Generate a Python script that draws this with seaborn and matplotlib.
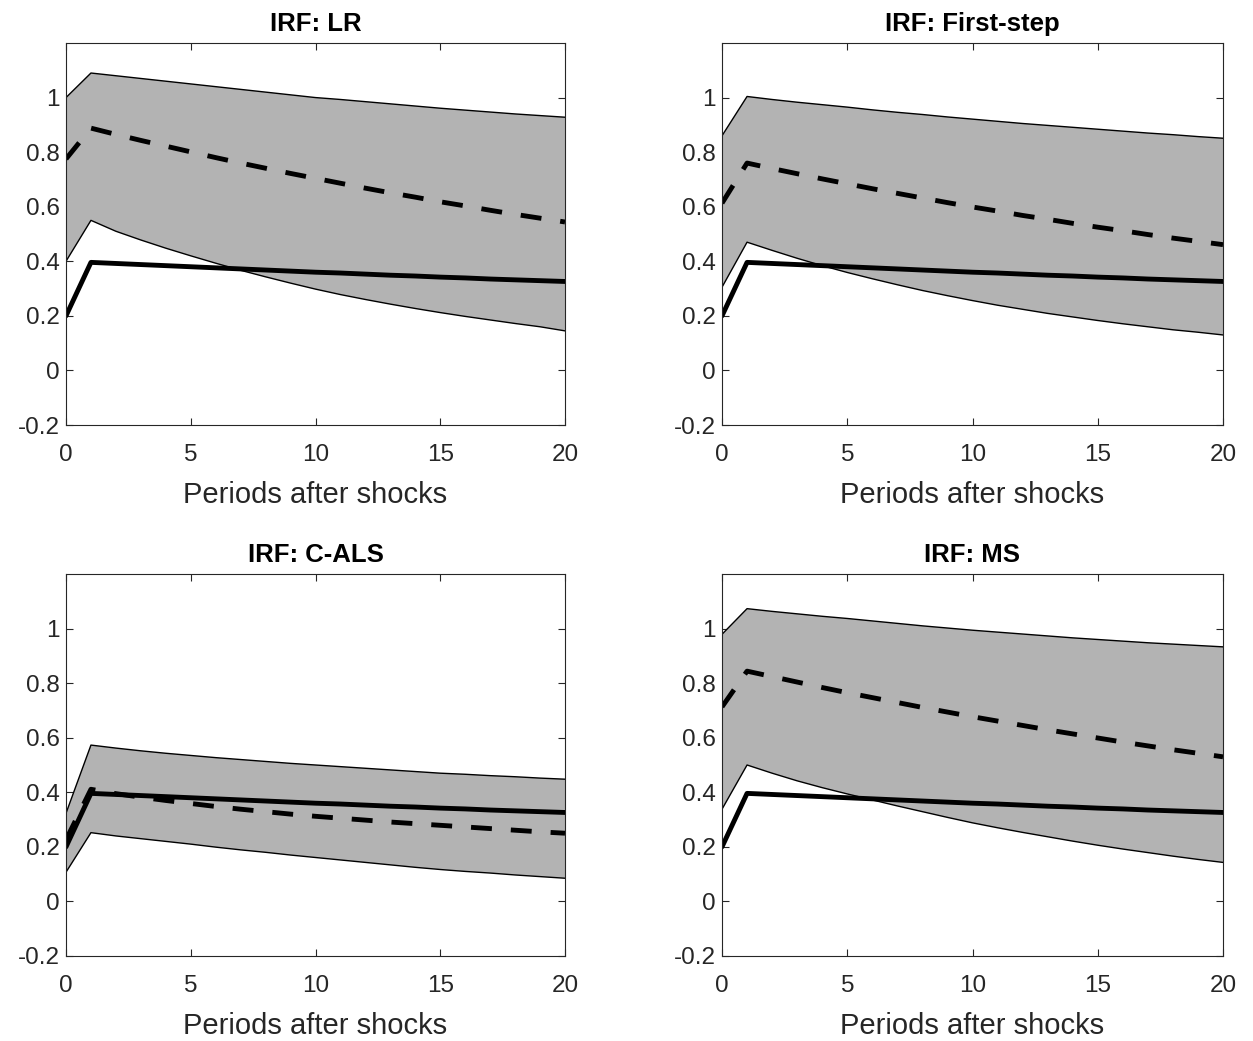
import numpy as np
import pandas as pd
import matplotlib
matplotlib.use("Agg")
import matplotlib.pyplot as plt
import seaborn as sns

periods = list(range(21))

true_irf = [0.200, 0.396, 0.392, 0.388, 0.384, 0.380, 0.376, 0.372, 0.368, 0.364, 0.360,
            0.357, 0.353, 0.349, 0.346, 0.342, 0.339, 0.335, 0.332, 0.329, 0.326]

lr_est = [0.775, 0.888, 0.865, 0.843, 0.822, 0.801, 0.780, 0.760, 0.741, 0.722, 0.704,
          0.686, 0.668, 0.651, 0.635, 0.618, 0.603, 0.587, 0.572, 0.558, 0.544]
lr_upper = [1.000, 1.090, 1.080, 1.070, 1.060, 1.050, 1.040, 1.030, 1.020, 1.010, 1.000,
            0.993, 0.985, 0.977, 0.969, 0.961, 0.954, 0.947, 0.940, 0.934, 0.928]
lr_lower = [0.400, 0.550, 0.510, 0.478, 0.448, 0.420, 0.393, 0.367, 0.343, 0.320, 0.298,
            0.278, 0.260, 0.243, 0.227, 0.212, 0.198, 0.185, 0.172, 0.160, 0.145]

fs_est = [0.613, 0.760, 0.740, 0.721, 0.702, 0.684, 0.666, 0.649, 0.632, 0.615, 0.599,
          0.584, 0.568, 0.554, 0.539, 0.525, 0.512, 0.498, 0.485, 0.473, 0.461]
fs_upper = [0.860, 1.004, 0.993, 0.983, 0.974, 0.965, 0.955, 0.946, 0.938, 0.929, 0.921,
            0.913, 0.905, 0.898, 0.891, 0.884, 0.877, 0.870, 0.864, 0.857, 0.851]
fs_lower = [0.305, 0.470, 0.440, 0.411, 0.384, 0.359, 0.336, 0.314, 0.293, 0.274, 0.256,
            0.239, 0.224, 0.209, 0.196, 0.183, 0.171, 0.160, 0.149, 0.140, 0.130]

cals_est = [0.226, 0.411, 0.395, 0.382, 0.370, 0.359, 0.348, 0.338, 0.329, 0.320, 0.312,
            0.305, 0.298, 0.291, 0.285, 0.279, 0.273, 0.267, 0.261, 0.255, 0.250]
cals_upper = [0.323, 0.573, 0.562, 0.552, 0.543, 0.535, 0.527, 0.520, 0.513, 0.506, 0.500,
              0.494, 0.488, 0.482, 0.476, 0.470, 0.466, 0.461, 0.457, 0.452, 0.448]
cals_lower = [0.107, 0.252, 0.240, 0.230, 0.220, 0.210, 0.199, 0.189, 0.180, 0.170, 0.161,
              0.152, 0.143, 0.134, 0.125, 0.117, 0.110, 0.104, 0.097, 0.091, 0.085]

ms_est = [0.713, 0.844, 0.824, 0.804, 0.784, 0.765, 0.747, 0.729, 0.711, 0.694, 0.677,
          0.661, 0.645, 0.629, 0.614, 0.599, 0.584, 0.570, 0.556, 0.543, 0.530]
ms_upper = [0.979, 1.073, 1.063, 1.054, 1.045, 1.037, 1.028, 1.019, 1.010, 1.002, 0.994,
            0.987, 0.980, 0.973, 0.966, 0.960, 0.954, 0.948, 0.943, 0.938, 0.933]
ms_lower = [0.338, 0.500, 0.470, 0.442, 0.417, 0.394, 0.372, 0.350, 0.329, 0.308, 0.288,
            0.270, 0.253, 0.237, 0.221, 0.206, 0.192, 0.179, 0.166, 0.154, 0.143]

titles = ["IRF: LR", "IRF: First-step", "IRF: C-ALS", "IRF: MS"]
estimates = [lr_est, fs_est, cals_est, ms_est]
uppers = [lr_upper, fs_upper, cals_upper, ms_upper]
lowers = [lr_lower, fs_lower, cals_lower, ms_lower]
x_label = "Periods after shocks"
x_ticks = [0, 5, 10, 15, 20]
y_ticks = [-0.2, 0, 0.2, 0.4, 0.6, 0.8, 1]
y_tick_labels = ["-0.2", "0", "0.2", "0.4", "0.6", "0.8", "1"]

sns.set_theme(style="white")
plt.rcParams["font.family"] = ["Liberation Sans", "DejaVu Sans"]

W, H = 1253, 1041
fig = plt.figure(figsize=(W / 100, H / 100), dpi=100)

# axes boxes in pixels: (left, top, right, bottom)
boxes = [(66, 43, 565, 425), (722, 43, 1223, 425),
         (66, 574, 565, 956), (722, 574, 1223, 956)]

edge = "#262626"
for i, (l, t, r, b) in enumerate(boxes):
    ax = fig.add_axes([l / W, 1 - b / H, (r - l) / W, (b - t) / H])
    df = pd.DataFrame({"t": periods, "true": true_irf, "est": estimates[i],
                       "lo": lowers[i], "hi": uppers[i]})
    ax.fill_between(df["t"], df["lo"], df["hi"], facecolor="#b3b3b3",
                    edgecolor="none", zorder=1)
    sns.lineplot(data=df, x="t", y="hi", ax=ax, color="black", lw=1.0, zorder=2)
    sns.lineplot(data=df, x="t", y="lo", ax=ax, color="black", lw=1.0, zorder=2)
    sns.lineplot(data=df, x="t", y="true", ax=ax, color="black", lw=3.5, zorder=3)
    sns.lineplot(data=df, x="t", y="est", ax=ax, color="black", lw=3.5, zorder=3)
    ax.lines[-1].set_dashes([4.3, 3.9])
    ax.set_xlim(0, 20)
    ax.set_ylim(-0.2, 1.2)
    ax.set_xticks(x_ticks)
    ax.set_xticklabels([str(v) for v in x_ticks])
    ax.set_yticks(y_ticks)
    ax.set_yticklabels(y_tick_labels)
    ax.set_xlabel(x_label, fontsize=21, color="#262626", labelpad=11)
    ax.set_ylabel("")
    ax.set_title(titles[i], fontsize=18.5, fontweight="bold", color="black", pad=8.5)
    ax.tick_params(axis="both", which="both", direction="in", length=5, width=0.8,
                   colors=edge, labelcolor="#262626", labelsize=17.5,
                   top=True, right=True, bottom=True, left=True)
    ax.tick_params(axis="x", pad=13.5)
    ax.tick_params(axis="y", pad=4.5)
    for s in ax.spines.values():
        s.set_color(edge)
        s.set_linewidth(0.8)
        s.set_zorder(5)
    ax.set_facecolor("white")
    ax.grid(False)

fig.savefig("out.png", dpi=100, facecolor="white")
